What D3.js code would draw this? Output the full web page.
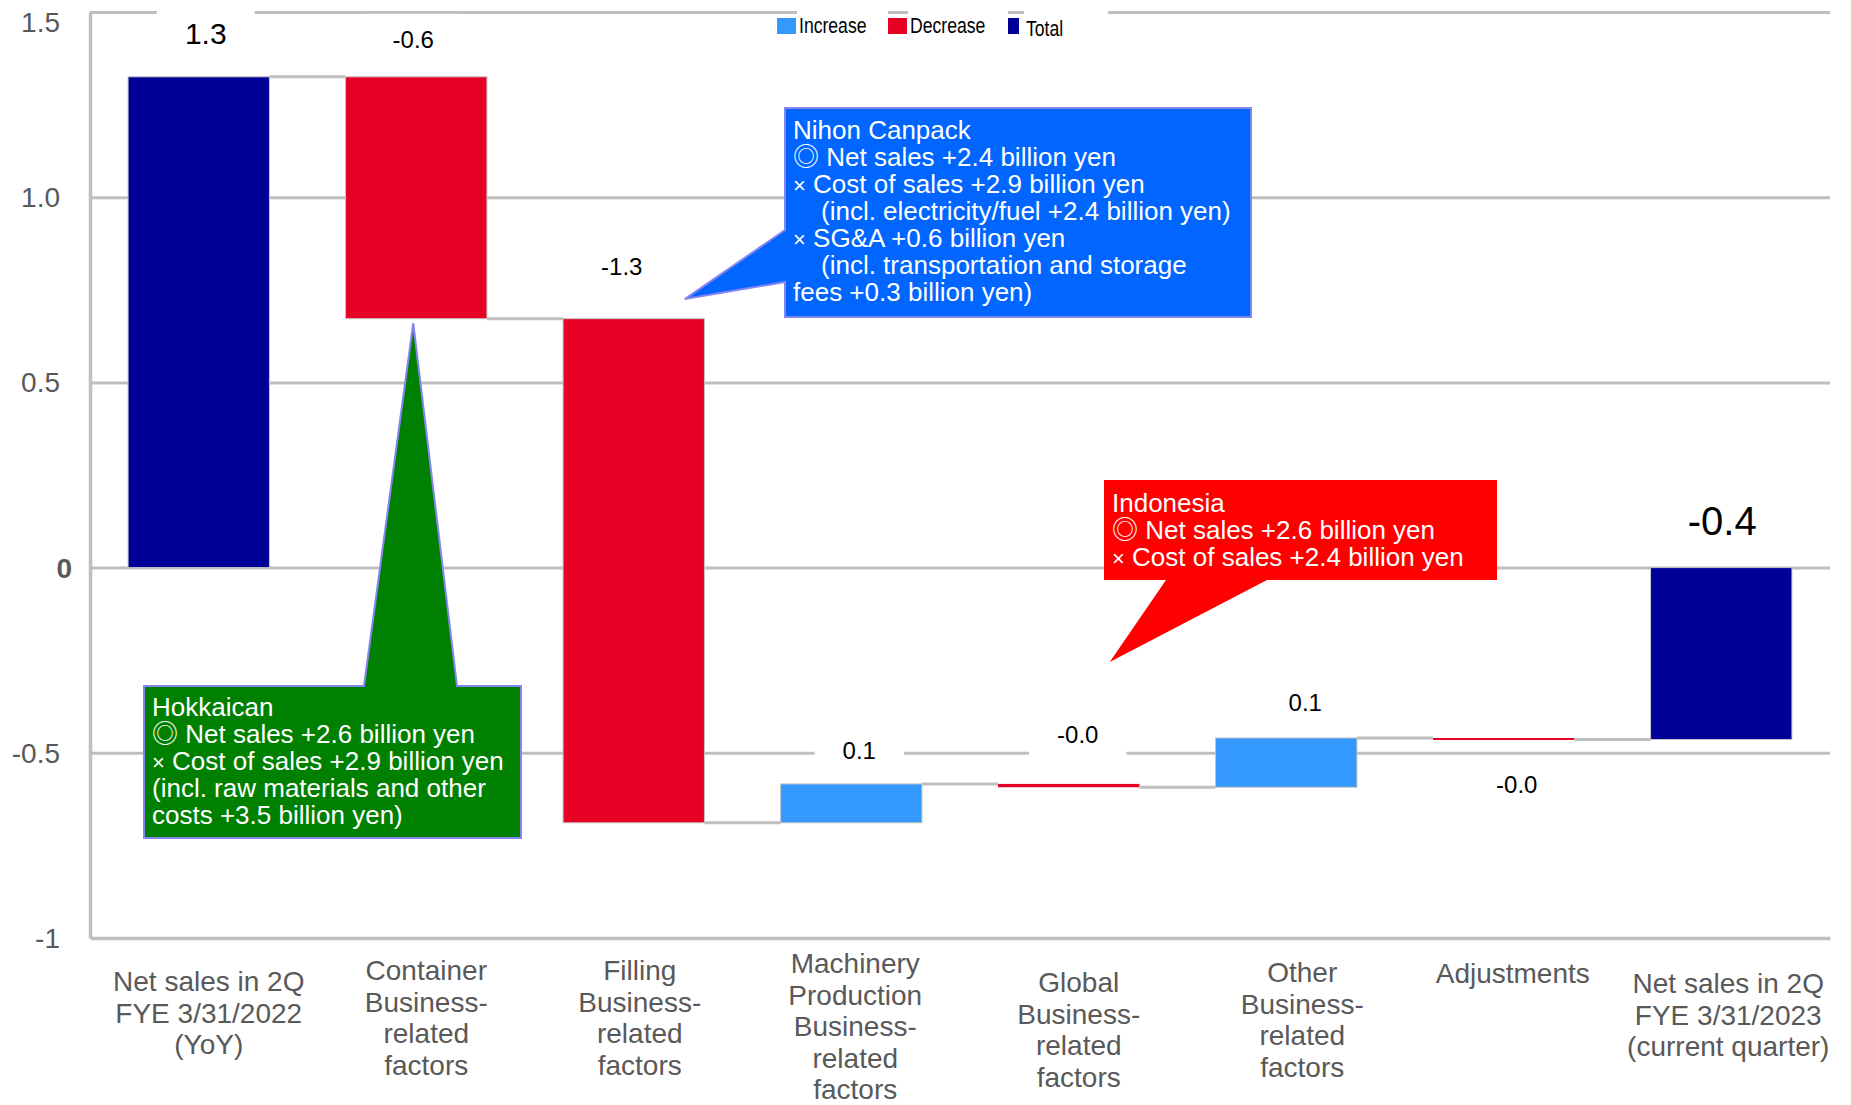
<!DOCTYPE html>
<html>
<head>
<meta charset="utf-8">
<script src="https://cdn.jsdelivr.net/npm/d3@7"></script>
<style>
  body { margin: 0; background: #fff; }
  svg { display: block; font-family: "Liberation Sans", Arial, sans-serif; }
  text { white-space: pre; }
</style>
</head>
<body>
<svg id="chart" width="1851" height="1105"></svg>
<script>
// category labels, one entry per printed line
const categoryLines = [
  ["Net sales in 2Q", "FYE 3/31/2022", "(YoY)"],
  ["Container", "Business-", "related", "factors"],
  ["Filling", "Business-", "related", "factors"],
  ["Machinery", "Production", "Business-", "related", "factors"],
  ["Global", "Business-", "related", "factors"],
  ["Other", "Business-", "related", "factors"],
  ["Adjustments"],
  ["Net sales in 2Q", "FYE 3/31/2023", "(current quarter)"]
];
const categories = categoryLines.map(l => l.join(" "));

// first bar is the opening total, the last one is the running sum
const barKinds = ["total", "change", "change", "change", "change", "change", "change", "total"];
const changes = [1.325, -0.653, -1.361, 0.105, -0.009, 0.133, -0.004, null];
const valueLabels = ["1.3", "-0.6", "-1.3", "0.1", "-0.0", "0.1", "-0.0", "-0.4"];

const yTicks = [-1, -0.5, 0, 0.5, 1, 1.5];
const yTickLabels = ["-1", "-0.5", "0", "0.5", "1.0", "1.5"];
const gridTicks = [-0.5, 0, 0.5, 1, 1.5];

const legendItems = ["Increase", "Decrease", "Total"];

const hokkaicanLines = [
  "Hokkaican",
  "◎ Net sales +2.6 billion yen",
  "× Cost of sales +2.9 billion yen",
  "(incl. raw materials and other",
  "costs +3.5 billion yen)"
];
const canpackLines = [
  "Nihon Canpack",
  "◎ Net sales +2.4 billion yen",
  "× Cost of sales +2.9 billion yen",
  "  (incl. electricity/fuel +2.4 billion yen)",
  "× SG&A +0.6 billion yen",
  "  (incl. transportation and storage",
  "fees +0.3 billion yen)"
];
const indonesiaLines = [
  "Indonesia",
  "◎ Net sales +2.6 billion yen",
  "× Cost of sales +2.4 billion yen"
];

// layout
const plotLeft = 90, plotRight = 1830, plotTop = 12, plotBottom = 938;
const colours = { increase: "#3399FF", decrease: "#E60023", total: "#000099" };
const gridColour = "#bfbfbf";
const labelColour = "#595959";

const labelDx = [7, -3, -12, 8, 9, 19, 13, 1];
const labelDy = [-44, -37, -52, -34, -50, -36, 46, -47];
const labelSize = [30, 24, 24, 24, 24, 24, 24, 40];
const catDx = [10, 10, 6, 4, 10, 16, 9, 7];
const catFirstLine = [43, 32, 32, 25, 44, 34, 35, 45];

const svg = d3.select("#chart");

const x = d3.scaleBand()
  .domain(categories)
  .range([plotLeft, plotRight])
  .paddingInner(0.35)
  .paddingOuter(0.175);

const y = d3.scaleLinear()
  .domain([-1, 1.5])
  .range([plotBottom, plotTop]);

// gridlines
const grid = svg.append("g")
  .attr("transform", "translate(" + plotLeft + ",0)")
  .call(d3.axisLeft(y).tickValues(gridTicks).tickSize(-(plotRight - plotLeft)).tickFormat(""));
grid.select(".domain").remove();
grid.selectAll(".tick line").attr("stroke", gridColour).attr("stroke-width", 3);

// y axis with labels
const yAxis = svg.append("g")
  .attr("transform", "translate(" + plotLeft + ",0)")
  .call(d3.axisLeft(y).tickValues(yTicks).tickFormat((d, i) => yTickLabels[i]).tickSize(0).tickSizeOuter(0).tickPadding(30));
yAxis.select(".domain").attr("stroke", gridColour).attr("stroke-width", 3.5);
yAxis.selectAll(".tick text")
  .attr("fill", labelColour)
  .attr("font-size", 28)
  .attr("font-family", "Liberation Sans, Arial, sans-serif")
  .attr("dy", d => d === 1.5 ? "0.68em" : "0.34em")
  .attr("font-weight", d => d === 0 ? "bold" : null)
  .attr("x", d => d === 0 ? -18 : -30);

// x axis with multi-line category labels
const xAxis = svg.append("g")
  .attr("transform", "translate(0," + plotBottom + ")")
  .call(d3.axisBottom(x).tickSize(0).tickSizeOuter(0));
xAxis.select(".domain").attr("stroke", gridColour).attr("stroke-width", 3.5);
xAxis.selectAll(".tick text").each(function(d, i) {
  const t = d3.select(this).text(null)
    .attr("fill", labelColour)
    .attr("font-size", 28)
    .attr("font-family", "Liberation Sans, Arial, sans-serif")
    .attr("dy", null)
    .attr("y", null);
  categoryLines[i].forEach((line, k) => {
    t.append("tspan")
      .attr("x", catDx[i])
      .attr("y", catFirstLine[i] + k * 31.5 + 10)
      .text(line);
  });
});

// waterfall bars
let running = 0;
const bars = changes.map((c, i) => {
  if (barKinds[i] === "total") {
    const v = c === null ? running : c;
    running = v;
    return { i: i, from: 0, to: v, kind: "total" };
  }
  const from = running;
  running += c;
  return { i: i, from: from, to: running, kind: c >= 0 ? "increase" : "decrease" };
});

svg.append("g").selectAll("rect")
  .data(bars)
  .join("rect")
  .attr("x", d => x(categories[d.i]))
  .attr("width", x.bandwidth())
  .attr("y", d => y(Math.max(d.from, d.to)))
  .attr("height", d => Math.max(2, Math.abs(y(d.from) - y(d.to))))
  .attr("fill", d => colours[d.kind])
  .attr("stroke", d => Math.abs(y(d.from) - y(d.to)) > 6 ? "#c4c4c4" : "none")
  .attr("stroke-width", 1);

// connectors between bars
svg.append("g").selectAll("line")
  .data(bars.slice(0, -1))
  .join("line")
  .attr("x1", d => x(categories[d.i]) + x.bandwidth())
  .attr("x2", d => x(categories[d.i + 1]))
  .attr("y1", d => y(d.to))
  .attr("y2", d => y(d.to))
  .attr("stroke", gridColour)
  .attr("stroke-width", 3);

// value labels with white backing
const labels = svg.append("g").selectAll("g")
  .data(bars)
  .join("g")
  .attr("transform", d => {
    const top = y(Math.max(d.from, d.to));
    const cx = x(categories[d.i]) + x.bandwidth() / 2 + labelDx[d.i];
    return "translate(" + cx + "," + (top + labelDy[d.i]) + ")";
  });
labels.append("text")
  .attr("text-anchor", "middle")
  .attr("dy", d => 0.36 * labelSize[d.i])
  .attr("font-size", d => labelSize[d.i])
  .attr("fill", "#000")
  .text(d => valueLabels[d.i]);
labels.each(function(d) {
  const g = d3.select(this);
  const w = g.select("text").node().getComputedTextLength();
  const fs = labelSize[d.i];
  g.insert("rect", "text")
    .attr("x", -w / 2 - 28)
    .attr("y", -fs / 2 - 14)
    .attr("width", w + 56)
    .attr("height", fs + 28)
    .attr("fill", "#fff");
});

// callouts
const callouts = [
  { lines: hokkaicanLines, fill: "#008000", stroke: "#8585f0", box: [144, 686, 521, 838],
    side: "top", base: [364, 457], tip: { cat: 1, dx: -3, v: 0.66 }, firstLine: 21 },
  { lines: canpackLines, fill: "#0066FF", stroke: "#8585f0", box: [785, 108, 1251, 317],
    side: "left", base: [230, 282], tip: { cat: 2, dx: 51, v: 0.725 }, firstLine: 22 },
  { lines: indonesiaLines, fill: "#FF0000", stroke: "none", box: [1104, 480, 1497, 580],
    side: "bottom", base: [1166, 1267], tip: { cat: 4, dx: 41, v: -0.255 }, firstLine: 23 }
];

callouts.forEach(c => {
  const [x0, y0, x1, y1] = c.box;
  const tx = x(categories[c.tip.cat]) + x.bandwidth() / 2 + c.tip.dx;
  const ty = y(c.tip.v);
  const p = d3.path();
  if (c.side === "top") {
    p.moveTo(x0, y0); p.lineTo(c.base[0], y0); p.lineTo(tx, ty); p.lineTo(c.base[1], y0);
    p.lineTo(x1, y0); p.lineTo(x1, y1); p.lineTo(x0, y1);
  } else if (c.side === "left") {
    p.moveTo(x0, y0); p.lineTo(x1, y0); p.lineTo(x1, y1); p.lineTo(x0, y1);
    p.lineTo(x0, c.base[1]); p.lineTo(tx, ty); p.lineTo(x0, c.base[0]);
  } else {
    p.moveTo(x0, y0); p.lineTo(x1, y0); p.lineTo(x1, y1); p.lineTo(c.base[1], y1);
    p.lineTo(tx, ty); p.lineTo(c.base[0], y1); p.lineTo(x0, y1);
  }
  p.closePath();
  const g = svg.append("g");
  g.append("path")
    .attr("d", p.toString())
    .attr("fill", c.fill)
    .attr("stroke", c.stroke)
    .attr("stroke-width", 2);
  c.lines.forEach((line, k) => {
    const indent = line.startsWith("  ");
    let s = line.trim();
    const t = g.append("text")
      .attr("x", x0 + 8 + (indent ? 28 : 0))
      .attr("y", y0 + c.firstLine + k * 27 + 9)
      .attr("font-size", 26)
      .attr("fill", "#fff");
    if (s.startsWith("×")) {
      t.append("tspan").attr("font-size", 22).text("×");
      s = s.slice(1);
    } else if (s.startsWith("◎")) {
      t.append("tspan").attr("font-family", "Noto Sans CJK JP").text("◎");
      s = s.slice(1);
    }
    t.append("tspan").text(s);
  });
});

// legend
const legendX = [777, 888, 1008];
const swatchW = [19, 19, 11];
const textGap = [3, 3, 7];
const legendCy = [25, 25, 27.5];
const legendKinds = ["increase", "decrease", "total"];
legendItems.forEach((name, i) => {
  const tx = legendX[i] + swatchW[i] + textGap[i];
  const bg = svg.append("rect")
    .attr("y", 0).attr("height", 40).attr("fill", "#fff");
  svg.append("rect")
    .attr("x", legendX[i]).attr("y", 18)
    .attr("width", swatchW[i]).attr("height", 16)
    .attr("fill", colours[legendKinds[i]]);
  const tg = svg.append("g")
    .attr("transform", "translate(" + tx + "," + (legendCy[i] + 8) + ") scale(0.8,1)");
  const t = tg.append("text").attr("font-size", 22).attr("fill", "#000").text(name);
  const w = t.node().getComputedTextLength() * 0.8;
  const end = i < legendItems.length - 1 ? legendX[i + 1] : tx + w + 45;
  bg.attr("x", tx - 2).attr("width", end - tx + 2);
});
</script>
</body>
</html>
